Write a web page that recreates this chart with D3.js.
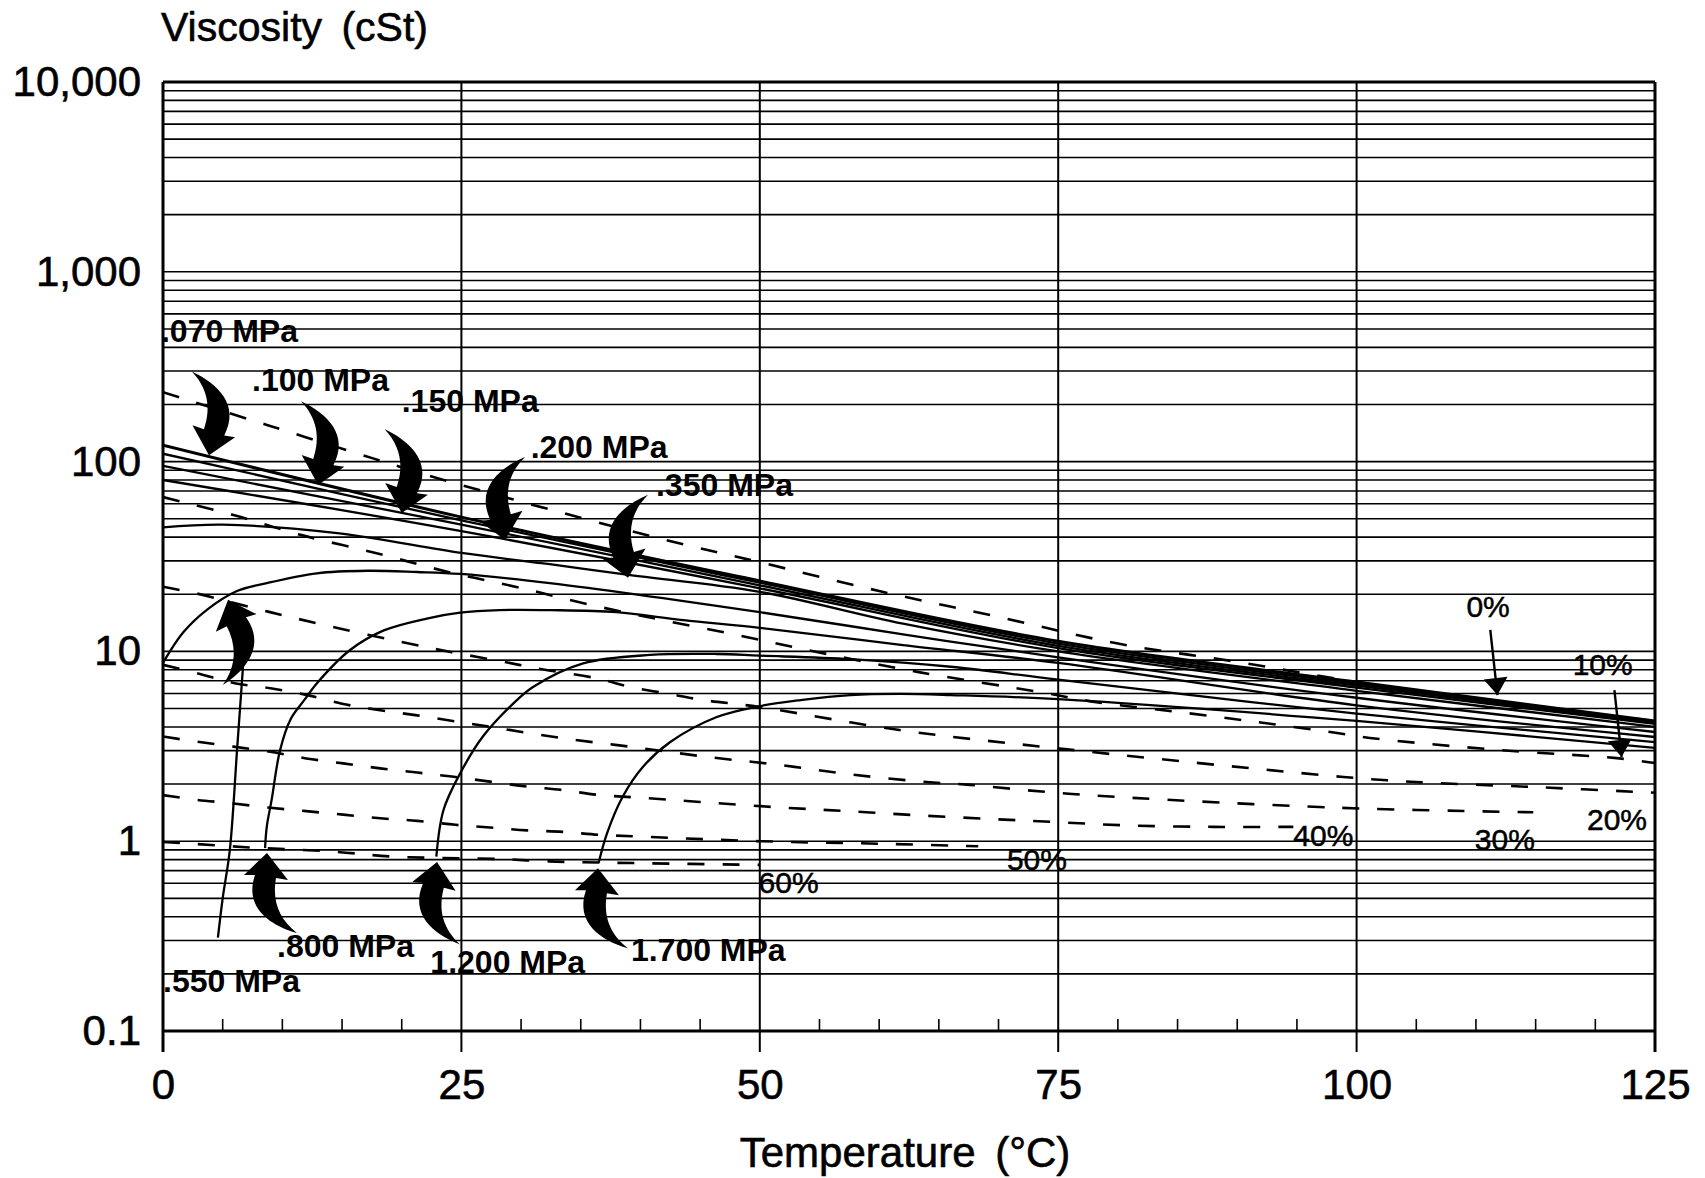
<!DOCTYPE html>
<html>
<head>
<meta charset="utf-8">
<title>Viscosity vs temperature</title>
<script src="https://cdn.jsdelivr.net/npm/d3@7"></script>
<style>
  html, body { margin: 0; padding: 0; background: #fff; }
  svg { display: block; }
  text { font-family: "Liberation Sans", Arial, Helvetica, sans-serif; fill: #000; }
</style>
</head>
<body>
<svg id="chart" width="1705" height="1178"></svg>
<script>
// ---------------- data ----------------
const tempTicks = [0, 25, 50, 75, 100, 125];
const viscTicks = [0.1, 1, 10, 100, 1000, 10000];
const viscTickLabels = ["0.1", "1", "10", "100", "1,000", "10,000"];

// constant-pressure curves, [temperature °C, viscosity cSt]
const p070 = [[0,122],[25,51],[50,23.5],[75,11.3],[100,6.9],[125,4.3]];
const p100 = [[0,110],[25,49],[50,23.0],[75,11.0],[100,6.75],[125,4.27]];
const p150 = [[0,95],[25,46.5],[50,22.3],[75,10.7],[100,6.6],[125,4.22]];
const p200 = [[0,80],[25,43],[50,21.5],[75,10.4],[100,6.45],[125,4.15]];
const p350 = [[0,45],[5,46.5],[14.6,42],[25,33],[32.4,28.8],[39,25.3],[50,20.6],[62,14.0],[75,10.0],[100,6.2],[125,4.0]];
const p550 = [[0,8.7],[1.7,12.6],[3.7,16.6],[6.2,20.8],[8.7,22.9],[12.9,25.8],[17.1,26.6],[21.3,26.2],[24.9,25.6],[32.4,22.9],[50,16.1],[62,12.3],[75,9.3],[100,5.7],[125,3.76]];
const p550Rise = [[4.6,0.31],[5.0,0.5],[5.6,0.9],[6.2,3.0],[6.5,5.5],[6.7,8.3],[6.85,12]];
const p800 = [[8.55,0.92],[8.7,1.2],[9.1,1.65],[9.8,3.0],[10.7,4.4],[11.8,5.5],[12.9,6.8],[15.7,10.2],[18.5,12.9],[22.1,14.9],[24.9,16.0],[28.2,16.5],[32.4,16.5],[38,16.1],[43.6,14.6],[50,13.3],[62,10.8],[75,8.7],[100,5.2],[125,3.54]];
const p1200 = [[22.9,0.83],[23.5,1.46],[24.9,2.28],[26.8,3.56],[29.6,5.5],[31.0,6.5],[35.2,8.65],[40.8,9.58],[46.4,9.69],[50,9.5],[57.6,9.1],[66,8.3],[75,7.1],[100,4.7],[125,3.33]];
const p1700 = [[36.5,0.77],[37.2,1.1],[38.5,1.71],[40.2,2.46],[42.5,3.33],[46.4,4.51],[50,5.15],[53.4,5.54],[57.6,5.89],[61.8,5.97],[66,5.89],[75,5.6],[100,4.3],[125,3.1]];
const pressureNames = [".070 MPa", ".100 MPa", ".150 MPa", ".200 MPa", ".350 MPa", ".550 MPa", ".800 MPa", "1.200 MPa", "1.700 MPa"];

// constant-dilution curves, [temperature °C, viscosity cSt]
const pct0  = [[0,232],[8.7,156],[17.6,104],[23.5,80],[42,38.8],[50,29.5],[60,20.8],[70,15.2],[80,11.0],[90,8.8],[100,6.9],[112,5.4],[125,4.3]];
const pct10 = [[0,65],[5.9,52.3],[11.6,41],[17.9,32.9],[23.8,26.3],[29.7,21.8],[35.8,17.6],[41.9,14.6],[48.1,12.2],[53.9,10.2],[63.2,7.8],[73.5,6.1],[78.2,5.4],[85,4.8],[91.6,4.25],[97.8,3.76],[101.1,3.5],[112,3.02],[121.8,2.74],[125,2.58]];
const pct20 = [[0,21.9],[2.8,20.2],[8.8,16.2],[14.8,13.2],[21.2,10.8],[24,9.95],[28.5,8.83],[31.3,8.15],[36.4,7.2],[39.1,6.5],[42.2,6.0],[45.2,5.55],[49.9,5.1],[61.7,3.85],[74,3.13],[98.9,2.18],[105,2.05],[114.8,1.93],[125,1.8]];
const pct30 = [[0,8.5],[3.1,7.6],[6,6.8],[9,6.4],[12,5.9],[15,5.3],[18.2,4.9],[21.3,4.6],[24.6,4.27],[27.7,3.98],[33.3,3.5],[39.4,3.13],[45.6,2.78],[51.7,2.52],[57.8,2.24],[64,2.05],[67.6,1.98],[73.9,1.82],[80,1.71],[98.5,1.5],[114.8,1.42]];
const pct40 = [[0,3.56],[2.9,3.34],[5.9,3.15],[9,2.96],[12,2.73],[15.1,2.57],[18.2,2.42],[21.3,2.3],[24.2,2.19],[27.4,2.06],[30.5,1.94],[33.5,1.86],[36.6,1.75],[39.7,1.7],[45,1.61],[51.4,1.51],[57.3,1.44],[63.2,1.37],[69.3,1.31],[74.9,1.26],[81,1.21],[88,1.19],[94.7,1.19]];
const pct50 = [[0,1.75],[2.9,1.65],[5.9,1.58],[9,1.5],[12,1.44],[15.1,1.38],[18.2,1.32],[21.3,1.28],[24.5,1.22],[27.4,1.18],[30.5,1.14],[33.5,1.12],[36.6,1.08],[39.7,1.06],[50,1.0],[60,0.97],[68.3,0.94]];
const pct60 = [[0,0.99],[2.4,0.97],[6.9,0.93],[14.4,0.88],[19.2,0.83],[28.4,0.805],[31.4,0.787],[34.5,0.776],[39.4,0.767],[50,0.75]];
const percentNames = ["0%", "10%", "20%", "30%", "40%", "50%", "60%"];

// annotation anchors, [temperature °C, viscosity cSt]
const pressureLabelAt = [[-0.17,427],[7.46,235],[20.0,182],[30.8,104],[41.3,66],[0,0.16],[9.55,0.245],[22.4,0.202],[39.2,0.234]];
const percentLabelAt = [[109.2,15.2],[118.1,7.5],[119.3,1.15],[109.9,0.9],[94.7,0.944],[70.7,0.705],[49.9,0.533]];
const curvedArrowTips = [[3.85,108],[13.0,75.3],[20.0,53.6],[28.65,38.6],[38.96,24.4],[5.45,18.7],[8.71,0.867],[22.96,0.776],[36.44,0.72]];
const pointerFrom = [[111.2,13.0],[121.6,6.26]];
const pointerTo = [[111.8,5.89],[122.2,2.78]];

// ---------------- layout ----------------
const plot = { left: 163, right: 1655, top: 82, bottom: 1031 };
// mirror and turn of each curved pointer
const arrowFlip = [[-1,-1],[-1,-1],[-1,-1],[1,-1],[1,-1],[-1,1],[1,1],[1,1],[1,1]];
const arrowTurn = [9, 9, 9, -7, -7, -17, 0, 5, 0];

const x = d3.scaleLinear().domain([0, 125]).range([plot.left, plot.right]);
const y = d3.scaleLog().domain([0.1, 10000]).range([plot.bottom, plot.top]);
const svg = d3.select("#chart");

// log grid (1..9 in each decade)
svg.append("g").selectAll("line").data(y.ticks()).join("line")
  .attr("x1", plot.left).attr("x2", plot.right)
  .attr("y1", d => y(d)).attr("y2", d => y(d))
  .attr("stroke", "#000").attr("stroke-width", 1.6);

// vertical grid and major ticks below the frame
svg.append("g").selectAll("line").data(tempTicks).join("line")
  .attr("x1", d => x(d)).attr("x2", d => x(d))
  .attr("y1", plot.top).attr("y2", plot.bottom + 21)
  .attr("stroke", "#000").attr("stroke-width", d => (d === 0 || d === 125) ? 3 : 2);

// minor temperature ticks
svg.append("g").selectAll("line").data(d3.range(5, 125, 5).filter(d => d % 25 !== 0)).join("line")
  .attr("x1", d => x(d)).attr("x2", d => x(d))
  .attr("y1", plot.bottom).attr("y2", plot.bottom - 12)
  .attr("stroke", "#000").attr("stroke-width", 1.6);

// frame top and bottom
svg.append("line").attr("x1", plot.left).attr("x2", plot.right).attr("y1", plot.top).attr("y2", plot.top)
  .attr("stroke", "#000").attr("stroke-width", 3);
svg.append("line").attr("x1", plot.left).attr("x2", plot.right).attr("y1", plot.bottom).attr("y2", plot.bottom)
  .attr("stroke", "#000").attr("stroke-width", 3);

// axis labels
const axisFont = g => g.selectAll("text").attr("font-size", 42)
  .style("font-family", '"Liberation Sans", Arial, sans-serif')
  .attr("stroke", "#000").attr("stroke-width", 0.6);

const xAxis = d3.axisBottom(x).tickValues(tempTicks).tickSize(0).tickPadding(38).tickFormat(d3.format("d"));
const gx = svg.append("g").attr("transform", `translate(0,${plot.bottom})`).call(xAxis);
gx.select(".domain").remove();
gx.call(axisFont);

const yAxis = d3.axisLeft(y).tickValues(viscTicks).tickSize(0).tickPadding(22)
  .tickFormat((d, i) => viscTickLabels[i]);
const gy = svg.append("g").attr("transform", `translate(${plot.left},0)`).call(yAxis);
gy.select(".domain").remove();
gy.call(axisFont);

svg.append("text").attr("x", 161).attr("y", 41).attr("font-size", 41)
  .attr("stroke", "#000").attr("stroke-width", 0.6)
  .attr("word-spacing", 8).text("Viscosity (cSt)");
svg.append("text").attr("x", 905).attr("y", 1167).attr("font-size", 42)
  .attr("stroke", "#000").attr("stroke-width", 0.6)
  .attr("text-anchor", "middle").attr("word-spacing", 8).text("Temperature (°C)");

// curves
const line = d3.line().x(d => x(d[0])).y(d => y(d[1])).curve(d3.curveCatmullRom.alpha(0.5));
svg.append("clipPath").attr("id", "plotclip").append("rect")
  .attr("x", plot.left).attr("y", plot.top).attr("width", plot.right - plot.left).attr("height", plot.bottom - plot.top);

const curves = svg.append("g").attr("clip-path", "url(#plotclip)");
const dilution = [pct0, pct10, pct20, pct30, pct40, pct50, pct60];
curves.selectAll("path.dil").data(dilution).join("path").attr("class", "dil")
  .attr("d", line).attr("fill", "none").attr("stroke", "#000")
  .attr("stroke-width", 2.6).attr("stroke-dasharray", "17,18");

const pressure = [p070, p100, p150, p200, p350, p550, p550Rise, p800, p1200, p1700];
curves.selectAll("path.prs").data(pressure).join("path").attr("class", "prs")
  .attr("d", line).attr("fill", "none").attr("stroke", "#000")
  .attr("stroke-width", (d, i) => i === 0 ? 3 : 2.3).attr("stroke-linejoin", "round");

// curved pointer arrows (tip at origin pointing up, tail sweeping down-right)
const crescent = "M0,0 L21,27 L9,25 C5,48 12,66 30,80 C2,72 -23,54 -12,22 L-23,22 Z";
svg.append("g").selectAll("path").data(curvedArrowTips).join("path")
  .attr("d", crescent).attr("fill", "#000")
  .attr("transform", (d, i) =>
    `translate(${x(d[0])},${y(d[1])}) rotate(${arrowTurn[i]}) scale(${arrowFlip[i][0]},${arrowFlip[i][1]})`);

// straight pointers for the 0% and 10% curves
const pointers = svg.append("g");
pointerFrom.forEach((p, i) => {
  const x0 = x(p[0]), y0 = y(p[1]), x1 = x(pointerTo[i][0]), y1 = y(pointerTo[i][1]);
  const ang = Math.atan2(y1 - y0, x1 - x0) * 180 / Math.PI;
  pointers.append("line").attr("x1", x0).attr("y1", y0).attr("x2", x1).attr("y2", y1)
    .attr("stroke", "#000").attr("stroke-width", 2.4);
  pointers.append("path").attr("d", "M0,0 L-17,-12 L-17,12 Z").attr("fill", "#000")
    .attr("transform", `translate(${x1},${y1}) rotate(${ang})`);
});

// pressure labels
svg.append("g").selectAll("text").data(pressureNames).join("text")
  .attr("x", (d, i) => x(pressureLabelAt[i][0])).attr("y", (d, i) => y(pressureLabelAt[i][1]))
  .attr("font-size", 32).attr("font-weight", "bold").text(d => d);

// dilution labels
svg.append("g").selectAll("text").data(percentNames).join("text")
  .attr("x", (d, i) => x(percentLabelAt[i][0])).attr("y", (d, i) => y(percentLabelAt[i][1]))
  .attr("font-size", 30).attr("stroke", "#000").attr("stroke-width", 0.5).text(d => d);
</script>
</body>
</html>
